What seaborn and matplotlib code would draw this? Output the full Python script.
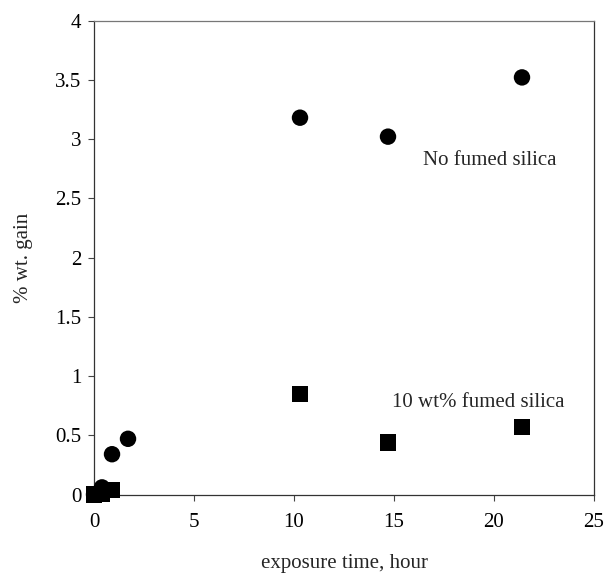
import matplotlib
matplotlib.use("Agg")
import matplotlib.pyplot as plt
import seaborn as sns
import pandas as pd

# Weight gain measurements
hours_plain = [0.0, 0.4, 0.9, 1.7, 10.3, 14.7, 21.4]
gain_plain = [0.0, 0.06, 0.34, 0.47, 3.18, 3.02, 3.52]
hours_silica = [0.0, 0.4, 0.9, 10.3, 14.7, 21.4]
gain_silica = [0.0, 0.01, 0.04, 0.85, 0.44, 0.57]

x_ticks = [0, 5, 10, 15, 20, 25]
y_ticks = [0, 0.5, 1, 1.5, 2, 2.5, 3, 3.5, 4]
y_tick_labels = ["0", "0.5", "1", "1.5", "2", "2.5", "3", "3.5", "4"]

df = pd.DataFrame({
    "hours": hours_plain + hours_silica,
    "gain": gain_plain + gain_silica,
    "sample": ["No fumed silica"] * len(hours_plain)
              + ["10 wt% fumed silica"] * len(hours_silica),
})

sns.set_style("white")
plt.rcParams["font.family"] = ["Liberation Serif", "DejaVu Serif"]

fig = plt.figure(figsize=(6.05, 5.75), dpi=100)
ax = fig.add_axes([0.1554, 0.140, 0.8264, 0.8243])

sns.scatterplot(
    data=df, x="hours", y="gain", style="sample",
    markers={"No fumed silica": "o", "10 wt% fumed silica": "s"},
    s=140, color="black", edgecolor="black", linewidth=0,
    legend=False, ax=ax, zorder=3,
)
for coll in ax.collections:
    coll.set_clip_on(False)

ax.set_xlim(0, 25)
ax.set_ylim(0, 4)
ax.set_xticks(x_ticks)
ax.set_yticks(y_ticks)
ax.set_yticklabels(y_tick_labels)
ax.tick_params(axis="both", direction="out", length=4, width=0.8,
               color="#444444", labelsize=15, labelcolor="black")
ax.tick_params(axis="x", pad=9)
ax.tick_params(axis="y", pad=5)
ax.tick_params(bottom=True, left=True)

for side in ["left", "right", "top", "bottom"]:
    ax.spines[side].set_visible(True)
    ax.spines[side].set_color("#333333")
    ax.spines[side].set_linewidth(0.9)
ax.spines["top"].set_color("#777777")

ax.set_xlabel("exposure time, hour", fontsize=15, labelpad=16)
ax.set_ylabel("% wt. gain", fontsize=15, labelpad=16)

ax.text(16.45, 2.82, "No fumed silica", fontsize=15, ha="left", va="center")
ax.text(14.9, 0.78, "10 wt% fumed silica", fontsize=15, ha="left", va="center")

fig.savefig("out.png", dpi=100)
